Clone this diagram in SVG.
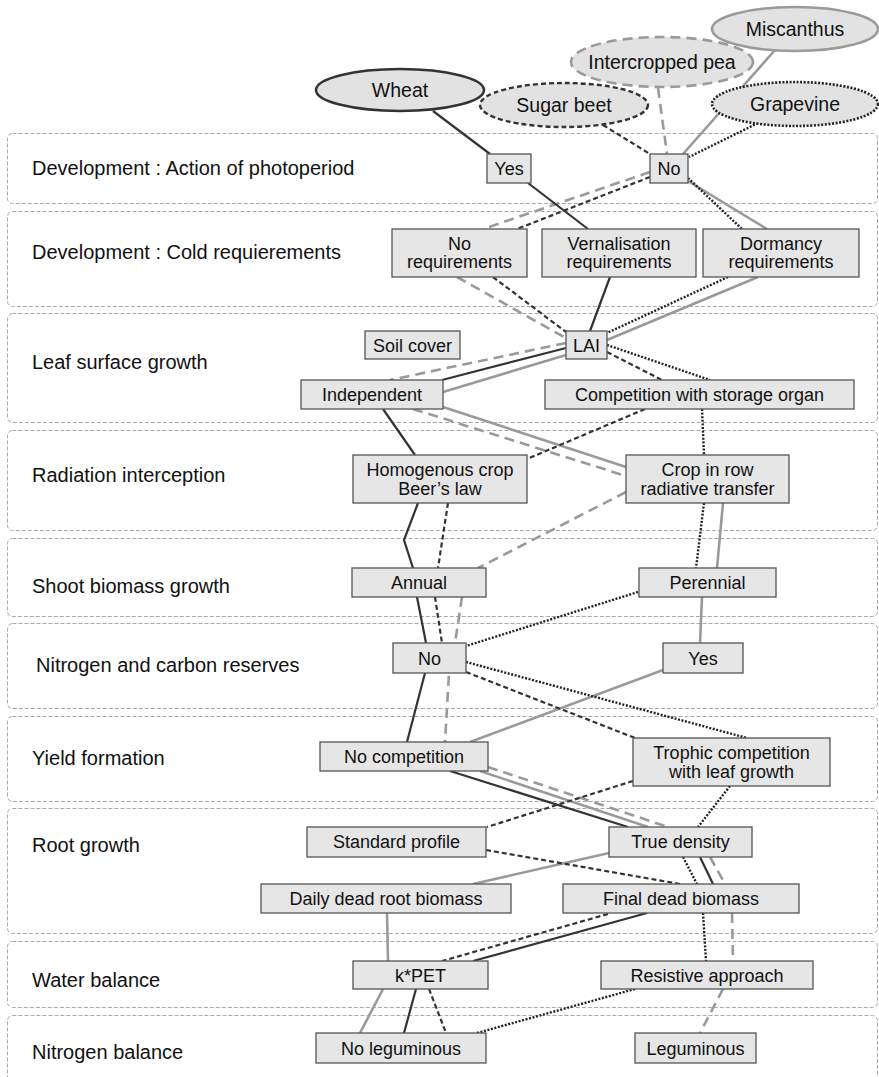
<svg xmlns="http://www.w3.org/2000/svg" width="879" height="1077" viewBox="0 0 879 1077">
<style>
.band{fill:none;stroke:#a8a8a8;stroke-width:1;stroke-dasharray:4 2}
.lbl{font-family:"Liberation Sans",Arial,sans-serif;font-size:20px;fill:#111;dominant-baseline:central}
.box{fill:#e6e6e6;stroke:#555;stroke-width:1.3}
.bt{font-family:"Liberation Sans",Arial,sans-serif;font-size:18px;fill:#111;text-anchor:middle;dominant-baseline:central}
.el{fill:#e2e2e2}
.et{font-family:"Liberation Sans",Arial,sans-serif;font-size:19.5px;fill:#111;text-anchor:middle;dominant-baseline:central}
.wheat{fill:none;stroke:#333;stroke-width:2.2}
.beet{fill:none;stroke:#333;stroke-width:2.2;stroke-dasharray:5 3}
.pea{fill:none;stroke:#9a9a9a;stroke-width:2.6;stroke-dasharray:10 6}
.misc{fill:none;stroke:#9a9a9a;stroke-width:2.6}
.grape{fill:none;stroke:#222;stroke-width:2.4;stroke-dasharray:2 1.6}
</style>
<g id="bands">
<rect class="band" x="7.5" y="133.5" width="870" height="70" rx="5"/>
<rect class="band" x="7.5" y="211.5" width="870" height="95" rx="5"/>
<rect class="band" x="7.5" y="313.5" width="870" height="109" rx="5"/>
<rect class="band" x="7.5" y="430.5" width="870" height="100" rx="5"/>
<rect class="band" x="7.5" y="538.5" width="870" height="78" rx="5"/>
<rect class="band" x="7.5" y="623.5" width="870" height="85" rx="5"/>
<rect class="band" x="7.5" y="716.5" width="870" height="85" rx="5"/>
<rect class="band" x="7.5" y="808.5" width="870" height="125" rx="5"/>
<rect class="band" x="7.5" y="941.5" width="870" height="66" rx="5"/>
<rect class="band" x="7.5" y="1015.5" width="870" height="80" rx="5"/>
<text class="lbl" x="32" y="168">Development : Action of photoperiod</text>
<text class="lbl" x="32" y="252">Development : Cold requierements</text>
<text class="lbl" x="32" y="362">Leaf surface growth</text>
<text class="lbl" x="32" y="475">Radiation interception</text>
<text class="lbl" x="32" y="586">Shoot biomass growth</text>
<text class="lbl" x="36" y="665">Nitrogen and carbon reserves</text>
<text class="lbl" x="32" y="758">Yield formation</text>
<text class="lbl" x="32" y="845">Root growth</text>
<text class="lbl" x="32" y="980">Water balance</text>
<text class="lbl" x="32" y="1052">Nitrogen balance</text>
</g>
<g id="connectors">
<polyline class="misc" points="775,50 683,154"/>
<polyline class="misc" points="688,181 767,229"/>
<polyline class="misc" points="758,277 607,340"/>
<polyline class="misc" points="566,355 443,392"/>
<polyline class="misc" points="443,407 626,467"/>
<polyline class="misc" points="723,503 717,568"/>
<polyline class="misc" points="702,597 700,643"/>
<polyline class="misc" points="663,670 470,742"/>
<polyline class="misc" points="480,771 648,827"/>
<polyline class="misc" points="609,853 473,884"/>
<polyline class="misc" points="387,913 388,961"/>
<polyline class="misc" points="383,989 360,1033"/>

<polyline class="pea" points="658,88 667,154"/>
<polyline class="pea" points="650,172 483,229"/>
<polyline class="pea" points="457,277 564,337"/>
<polyline class="pea" points="566,343 390,380"/>
<polyline class="pea" points="413,409 626,476"/>
<polyline class="pea" points="626,492 478,568"/>
<polyline class="pea" points="462,597 455,643 449,673 445,742"/>
<polyline class="pea" points="488,767 668,827"/>
<polyline class="pea" points="710,857 725,884"/>
<polyline class="pea" points="732,913 733,961"/>
<polyline class="pea" points="723,989 700,1033"/>

<polyline class="wheat" points="433,111 490,154"/>
<polyline class="wheat" points="528,183 588,229"/>
<polyline class="wheat" points="610,277 590,331"/>
<polyline class="wheat" points="566,348 442,380"/>
<polyline class="wheat" points="383,409 415,455"/>
<polyline class="wheat" points="418,503 404,540 413,568"/>
<polyline class="wheat" points="417,597 426,643"/>
<polyline class="wheat" points="425,673 407,742"/>
<polyline class="wheat" points="450,771 628,827"/>
<polyline class="wheat" points="700,857 713,884"/>
<polyline class="wheat" points="647,913 473,961"/>
<polyline class="wheat" points="416,989 404,1033"/>

<polyline class="beet" points="603,125 650,154"/>
<polyline class="beet" points="650,177 517,229"/>
<polyline class="beet" points="493,277 566,332"/>
<polyline class="beet" points="607,352 662,380"/>
<polyline class="beet" points="645,409 527,459"/>
<polyline class="beet" points="448,503 438,568"/>
<polyline class="beet" points="435,597 442,643"/>
<polyline class="beet" points="466,672 635,738"/>
<polyline class="beet" points="633,781 487,827"/>
<polyline class="beet" points="486,850 680,884"/>
<polyline class="beet" points="608,914 442,961"/>
<polyline class="beet" points="429,989 446,1033"/>

<polyline class="grape" points="758,123 689,157"/>
<polyline class="grape" points="688,178 742,229"/>
<polyline class="grape" points="728,277 607,333"/>
<polyline class="grape" points="607,345 710,380"/>
<polyline class="grape" points="702,409 704,455"/>
<polyline class="grape" points="704,503 696,568"/>
<polyline class="grape" points="638,592 466,646"/>
<polyline class="grape" points="466,662 747,738"/>
<polyline class="grape" points="730,786 698,827"/>
<polyline class="grape" points="683,857 697,884"/>
<polyline class="grape" points="703,913 706,961"/>
<polyline class="grape" points="635,989 477,1033"/>
</g>
<g id="crop-miscanthus"><ellipse class="el" cx="795" cy="29" rx="83" ry="22" stroke="#9a9a9a" stroke-width="2.6"/><text class="et" x="795" y="29">Miscanthus</text></g>
<g id="crop-pea"><ellipse class="el" cx="662" cy="62" rx="91" ry="25" stroke="#9a9a9a" stroke-width="2.6" stroke-dasharray="10 6"/><text class="et" x="662" y="62">Intercropped pea</text></g>
<g id="crop-wheat"><ellipse class="el" cx="400" cy="90" rx="84" ry="21" stroke="#333" stroke-width="2.6"/><text class="et" x="400" y="90">Wheat</text></g>
<g id="crop-beet"><ellipse class="el" cx="564" cy="105" rx="84" ry="22" stroke="#333" stroke-width="2.4" stroke-dasharray="5 3"/><text class="et" x="564" y="105">Sugar beet</text></g>
<g id="crop-grape"><ellipse class="el" cx="795" cy="104" rx="83" ry="22" stroke="#222" stroke-width="2.6" stroke-dasharray="2 1.6"/><text class="et" x="795" y="104">Grapevine</text></g>

<g id="n-yes1"><rect class="box" x="487" y="154" width="44" height="29"/><text class="bt" x="509" y="169">Yes</text></g>
<g id="n-no1"><rect class="box" x="650" y="154" width="38" height="29"/><text class="bt" x="669" y="169">No</text></g>
<g id="n-noreq"><rect class="box" x="392" y="229" width="135" height="48"/><text class="bt" x="459.5" y="244">No</text><text class="bt" x="459.5" y="262">requirements</text></g>
<g id="n-vern"><rect class="box" x="542" y="229" width="154" height="48"/><text class="bt" x="619" y="244">Vernalisation</text><text class="bt" x="619" y="262">requirements</text></g>
<g id="n-dorm"><rect class="box" x="703" y="229" width="156" height="48"/><text class="bt" x="781" y="244">Dormancy</text><text class="bt" x="781" y="262">requirements</text></g>
<g id="n-soil"><rect class="box" x="365" y="331" width="95" height="28"/><text class="bt" x="412.5" y="345.5">Soil cover</text></g>
<g id="n-lai"><rect class="box" x="566" y="331" width="41" height="28"/><text class="bt" x="586.5" y="345.5">LAI</text></g>
<g id="n-indep"><rect class="box" x="301" y="380" width="142" height="29"/><text class="bt" x="372" y="395">Independent</text></g>
<g id="n-comp"><rect class="box" x="545" y="380" width="309" height="29"/><text class="bt" x="699.5" y="395">Competition with storage organ</text></g>
<g id="n-homog"><rect class="box" x="353" y="455" width="174" height="48"/><text class="bt" x="440" y="470">Homogenous crop</text><text class="bt" x="440" y="489">Beer’s law</text></g>
<g id="n-croprow"><rect class="box" x="626" y="455" width="163" height="48"/><text class="bt" x="707.5" y="470">Crop in row</text><text class="bt" x="707.5" y="489">radiative transfer</text></g>
<g id="n-annual"><rect class="box" x="352" y="568" width="134" height="29"/><text class="bt" x="419" y="583">Annual</text></g>
<g id="n-perennial"><rect class="box" x="639" y="568" width="137" height="29"/><text class="bt" x="707.5" y="583">Perennial</text></g>
<g id="n-no2"><rect class="box" x="393" y="643" width="73" height="30"/><text class="bt" x="429.5" y="659">No</text></g>
<g id="n-yes2"><rect class="box" x="663" y="643" width="80" height="30"/><text class="bt" x="703" y="659">Yes</text></g>
<g id="n-nocomp"><rect class="box" x="320" y="742" width="168" height="29"/><text class="bt" x="404" y="757">No competition</text></g>
<g id="n-trophic"><rect class="box" x="633" y="738" width="197" height="48"/><text class="bt" x="731.5" y="753">Trophic competition</text><text class="bt" x="731.5" y="772">with leaf growth</text></g>
<g id="n-stdprof"><rect class="box" x="307" y="827" width="179" height="30"/><text class="bt" x="396.5" y="842">Standard profile</text></g>
<g id="n-truedens"><rect class="box" x="609" y="827" width="143" height="30"/><text class="bt" x="680.5" y="842">True density</text></g>
<g id="n-daily"><rect class="box" x="261" y="884" width="250" height="29"/><text class="bt" x="386" y="899">Daily dead root biomass</text></g>
<g id="n-final"><rect class="box" x="563" y="884" width="236" height="29"/><text class="bt" x="681" y="899">Final dead biomass</text></g>
<g id="n-kpet"><rect class="box" x="353" y="961" width="135" height="28"/><text class="bt" x="420.5" y="975.5">k*PET</text></g>
<g id="n-resist"><rect class="box" x="601" y="961" width="212" height="28"/><text class="bt" x="707" y="975.5">Resistive approach</text></g>
<g id="n-noleg"><rect class="box" x="316" y="1033" width="170" height="30"/><text class="bt" x="401" y="1049">No leguminous</text></g>
<g id="n-leg"><rect class="box" x="635" y="1033" width="121" height="30"/><text class="bt" x="695.5" y="1049">Leguminous</text></g>
</svg>
